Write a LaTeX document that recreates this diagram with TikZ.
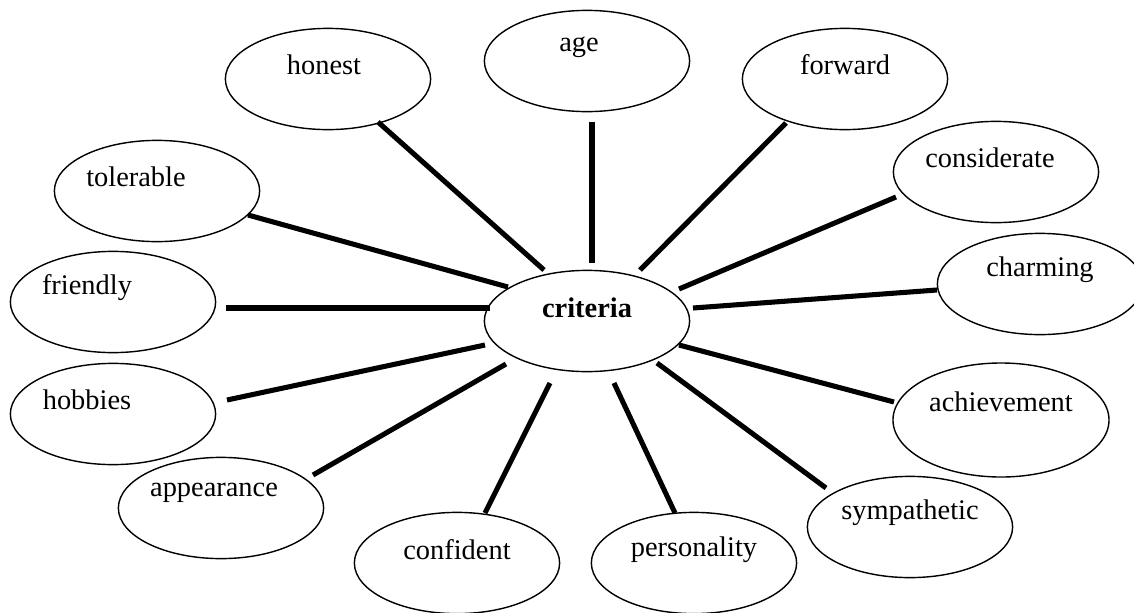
\documentclass[tikz,border=0pt]{standalone}
\usepackage{fontspec}
\setmainfont{Liberation Serif}
\usetikzlibrary{shapes.geometric,calc}
\begin{document}
\begin{tikzpicture}[x=0.025cm, y=-0.025cm,
  font=\fontsize{20.2}{24}\selectfont,
  bubble/.style={draw, ellipse, line width=1pt, minimum width=5.13cm, minimum height=2.53cm, inner sep=0pt},
  bigbubble/.style={bubble, minimum width=5.4cm, minimum height=2.85cm},
  link/.style={line width=3.6pt},
  lbl/.style={inner sep=0pt}]
\useasboundingbox (0,0) rectangle (1134,613);

\node[bubble, label={[lbl,xshift=-0.1cm,yshift=0.35cm]center:honest}] (honest) at (328,79) {};
\node[bubble, label={[lbl,xshift=-0.2cm,yshift=0.35cm]center:age}] (age) at (587,61) {};
\node[bubble, label={[lbl,yshift=0.35cm]center:forward}] (forward) at (845,79) {};
\node[bubble, label={[lbl,xshift=-0.15cm,yshift=0.35cm]center:considerate}] (considerate) at (996,172) {};
\node[bubble, label={[lbl,yshift=0.35cm]center:charming}] (charming) at (1040,284) {};
\node[bigbubble, label={[lbl,yshift=0.45cm]center:achievement}] (achievement) at (1001,420) {};
\node[bubble, label={[lbl,yshift=0.35cm]center:sympathetic}] (sympathetic) at (910,527) {};
\node[bubble, label={[lbl,yshift=0.325cm]center:personality}] (personality) at (694,563) {};
\node[bubble, label={[lbl,yshift=0.325cm]center:confident}] (confident) at (457,563) {};
\node[bubble, label={[lbl,xshift=-0.175cm,yshift=0.375cm]center:appearance}] (appearance) at (221,508) {};
\node[bubble, label={[lbl,xshift=-0.65cm,yshift=0.35cm]center:hobbies}] (hobbies) at (113,414) {};
\node[bubble, label={[lbl,xshift=-0.65cm,yshift=0.35cm]center:friendly}] (friendly) at (113,302) {};
\node[bubble, label={[lbl,xshift=-0.525cm,yshift=0.35cm]center:tolerable}] (tolerable) at (157,191) {};
\node[bubble, label={[lbl,yshift=0.325cm,font=\fontsize{20.2}{24}\selectfont\bfseries]center:criteria}] (criteria) at (587,321) {};

\draw[link] ($(honest)+(50,43)$) -- ($(criteria)+(-43,-51)$);
\draw[link] ($(age)+(5,61)$) -- ($(criteria)+(5,-58)$);
\draw[link] ($(forward)+(-59,44)$) -- ($(criteria)+(53,-51)$);
\draw[link] ($(considerate)+(-100,25)$) -- ($(criteria)+(92,-32)$);
\draw[link] ($(charming)+(-103,6)$) -- ($(criteria)+(106,-13)$);
\draw[link] ($(achievement)+(-107,-18)$) -- ($(criteria)+(92,24)$);
\draw[link] ($(sympathetic)+(-84,-39)$) -- ($(criteria)+(70,42)$);
\draw[link] ($(personality)+(-19,-50)$) -- ($(criteria)+(27,62)$);
\draw[link] ($(confident)+(28,-50)$) -- ($(criteria)+(-37,62)$);
\draw[link] ($(appearance)+(92,-33)$) -- ($(criteria)+(-81,43)$);
\draw[link] ($(hobbies)+(114,-14)$) -- ($(criteria)+(-102,24)$);
\draw[link] ($(friendly)+(113,6)$) -- ($(criteria)+(-97,-13)$);
\draw[link] ($(tolerable)+(91,24)$) -- ($(criteria)+(-79,-34)$);
\end{tikzpicture}
\end{document}
